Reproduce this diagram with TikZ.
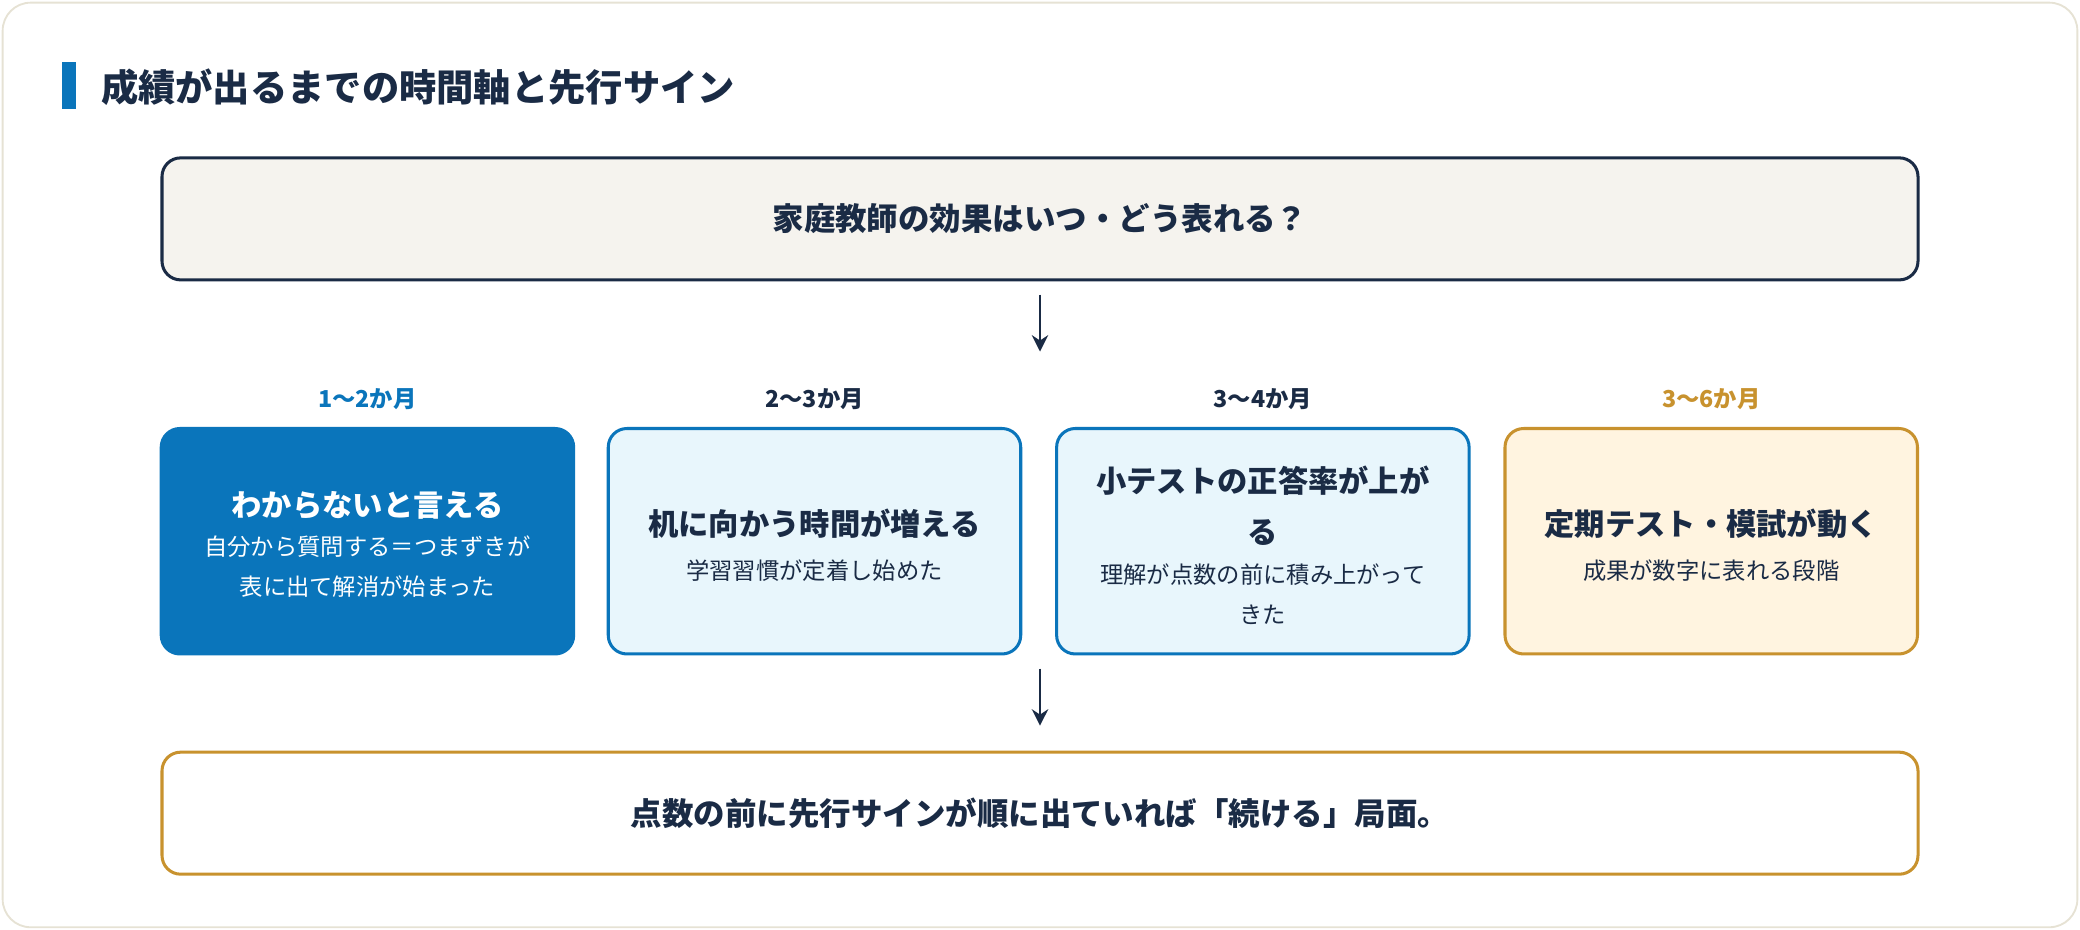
\documentclass[tikz,border=0pt]{standalone}
\usepackage{fontspec}
\setmainfont{Noto Sans CJK JP}
\usetikzlibrary{positioning,arrows.meta}
\definecolor{navy}{HTML}{1A2B45}
\definecolor{mainblue}{HTML}{0A75BB}
\definecolor{lightblue}{HTML}{E8F6FC}
\definecolor{gold}{HTML}{C8922E}
\definecolor{cream}{HTML}{FFF4E0}
\definecolor{paper}{HTML}{F5F3EE}
\definecolor{frame}{HTML}{E6E2D4}
\tikzset{
  wide/.style={draw=navy, line width=1.3pt, rounded corners=8pt, minimum width=26.48cm, minimum height=1.84cm, font=\bfseries\fontsize{13.5}{16}\selectfont, text=navy},
  phase/.style={line width=1.3pt, rounded corners=8pt, minimum width=6.22cm, minimum height=3.4cm},
  head/.style={align=center, text=navy, font=\bfseries\fontsize{13}{22}\selectfont},
  note/.style={align=center, text=navy, font=\fontsize{10}{17}\selectfont},
  when/.style={font=\bfseries\fontsize{10}{12}\selectfont},
  flow/.style={-{Stealth[length=7pt,width=7pt]}, line width=1.2pt, draw=navy}
}
\begin{document}
\begin{tikzpicture}[x=0.02cm, y=-0.02cm]
	\useasboundingbox (0,0) rectangle (1568,701);
	\draw[frame, fill=white, line width=0.8pt, rounded corners=12pt] (2,2) rectangle (1566,699);
	% title
	\fill[mainblue] (47,47) rectangle (57,82);
	\node[anchor=west, text=navy, font=\bfseries\fontsize{16}{19}\selectfont] (title) at (70,66) {成績が出るまでの時間軸と先行サイン};

	\node[wide, fill=paper] (question) at (784,165) {家庭教師の効果はいつ・どう表れる？};

	% phases
	\node[phase, fill=mainblue, draw=mainblue] (s1) at (277,408) {};
	\node[phase, fill=lightblue, draw=mainblue] (s2) at (614,408) {};
	\node[phase, fill=lightblue, draw=mainblue] (s3) at (952,408) {};
	\node[phase, fill=cream, draw=gold] (s4) at (1290,408) {};

	\node[head, text=white] (h1) at (277,381) {わからないと言える};
	\node[note, text=white] (n1) at (277,427) {自分から質問する＝つまずきが\\表に出て解消が始まった};
	\node[head] (h2) at (614,395) {机に向かう時間が増える};
	\node[note] (n2) at (614,430) {学習習慣が定着し始めた};
	\node[head] (h3) at (952,381) {小テストの正答率が上が\\る};
	\node[note] (n3) at (952,448) {理解が点数の前に積み上がって\\きた};
	\node[head] (h4) at (1290,395) {定期テスト・模試が動く};
	\node[note] (n4) at (1290,430) {成果が数字に表れる段階};

	\node[when, text=mainblue, above=4pt of s1] (t1) {1〜2か月};
	\node[when, text=navy, above=4pt of s2] (t2) {2〜3か月};
	\node[when, text=navy, above=4pt of s3] (t3) {3〜4か月};
	\node[when, text=gold, above=4pt of s4] (t4) {3〜6か月};

	\node[wide, fill=white, draw=gold] (answer) at (784,613) {点数の前に先行サインが順に出ていれば「続ける」局面。};

	\coordinate (a1) at (784,222);
	\coordinate (a2) at (784,265);
	\coordinate (b1) at (784,504);
	\coordinate (b2) at (784,547);
	\draw[flow] (a1) -- (a2);
	\draw[flow] (b1) -- (b2);
\end{tikzpicture}
\end{document}
